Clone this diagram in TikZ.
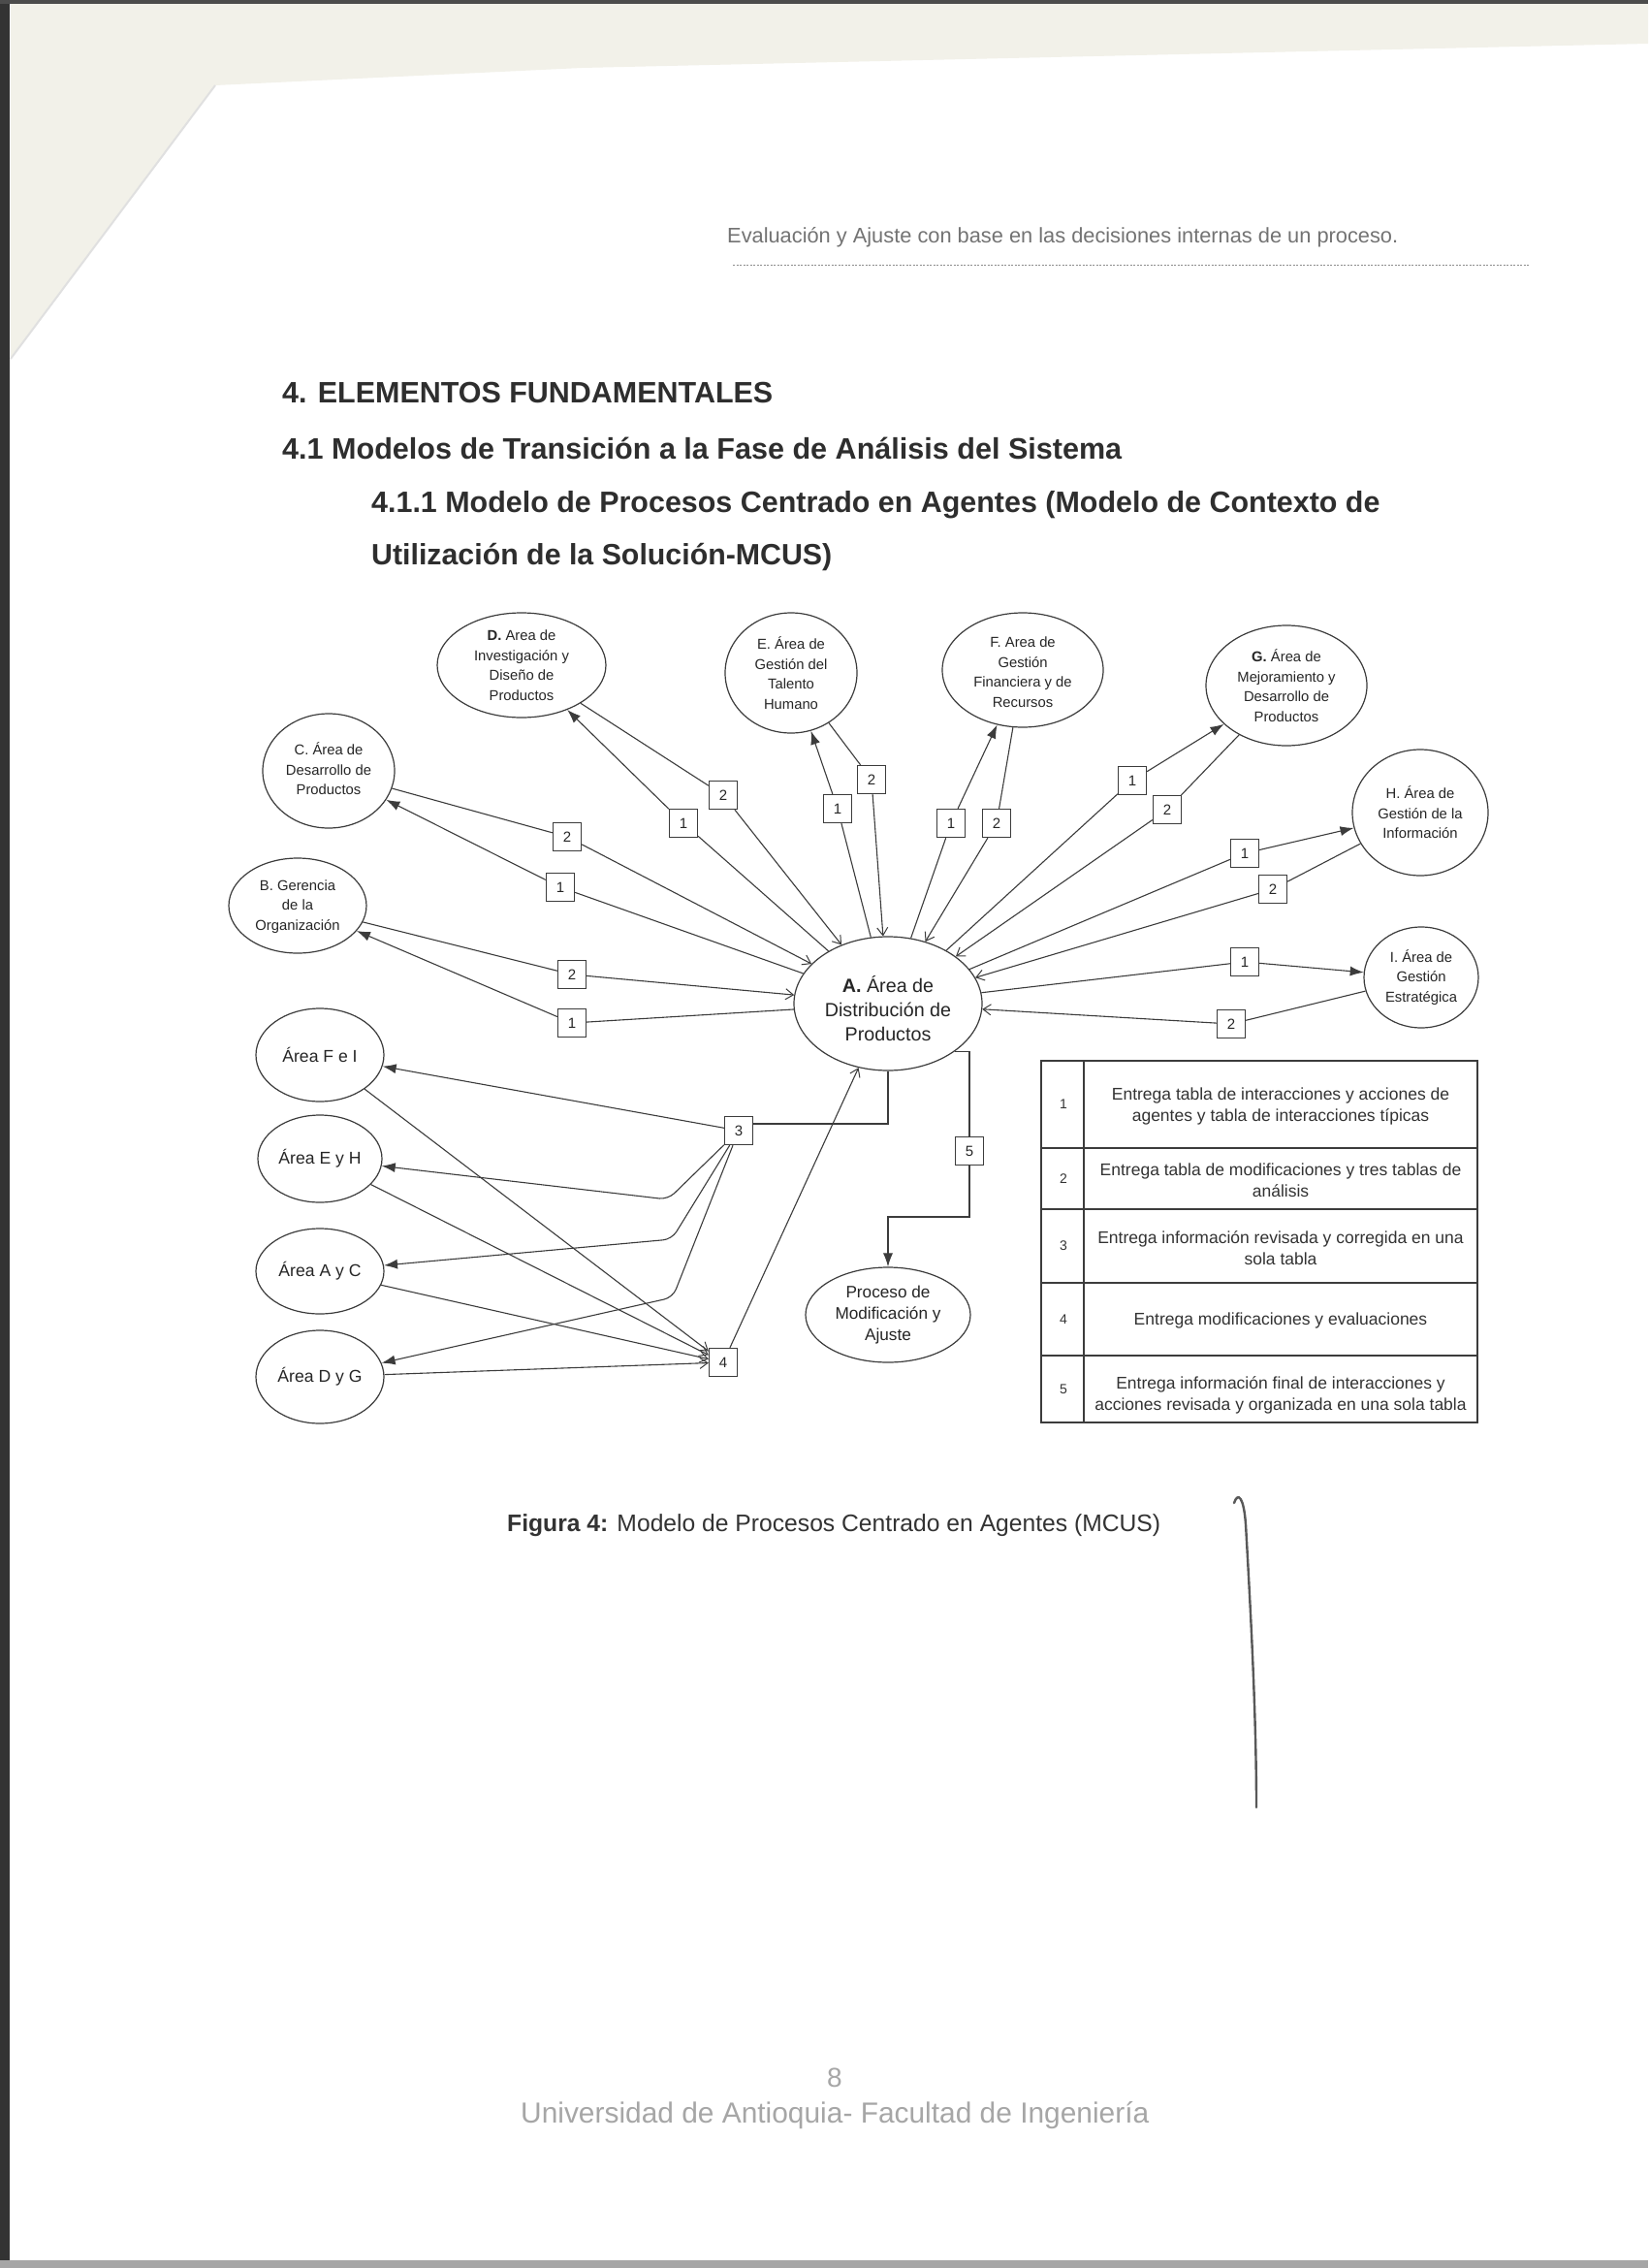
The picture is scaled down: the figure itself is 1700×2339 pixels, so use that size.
\documentclass[tikz,border=0pt]{standalone}
\usepackage{graphicx}
\usepackage{fontspec}
\setmainfont{Liberation Sans}
\usetikzlibrary{arrows.meta,shapes.geometric}
\definecolor{scanbeige}{RGB}{242,241,233}
\definecolor{ink}{RGB}{60,60,60}
\begin{document}
\begin{tikzpicture}[x=1pt,y=-1pt,
  ell/.style={ellipse, draw=ink, line width=1.2pt, inner sep=0pt},
  lab/.style={align=center, inner sep=0pt, text=black!85, font=\fontsize{14.8}{20.5}\selectfont},
  biglab/.style={align=center, inner sep=0pt, text=black!85, font=\fontsize{17.6}{22}\selectfont},
  numbox/.style={draw=ink, line width=1.3pt, fill=white, minimum size=29pt, inner sep=0pt, text=black!85, font=\fontsize{15}{15}\selectfont},
  con/.style={draw=ink, line width=1.1pt},
  tohead/.style={-{Latex[length=14pt,width=10pt]}},
  openhead/.style={-{Straight Barb[length=8pt,width=11pt,line width=1pt]}},
  cell/.style={align=center, inner sep=0pt, text=black!80, font=\fontsize{17.5}{22}\selectfont},
  cellnum/.style={inner sep=0pt, text=black!80, font=\fontsize{14}{14}\selectfont}
]
% page and scan frame
\useasboundingbox (0,0) rectangle (1700,2339);
\fill[white] (0,0) rectangle (1700,2339);
\fill[scanbeige] (11,4) -- (1700,4) -- (1700,45) -- (600,70) -- (222,88) -- (11,370) -- cycle;
\draw[black!12, line width=2pt] (222,88) -- (11,370);
\fill[black!80] (0,0) rectangle (10,2339);
\fill[black!70] (0,0) rectangle (1700,4);
\fill[black!35] (0,2331) rectangle (1700,2339);

% header
\node[anchor=base west, inner sep=0pt, text=black!55] (hdr) at (750,250)
  {\resizebox{692pt}{!}{Evaluación y Ajuste con base en las decisiones internas de un proceso.}};
\draw[black!45, line width=1pt, dash pattern=on 2pt off 1.5pt] (756,273) -- (1578,273);

% headings
\node[anchor=base west, inner sep=0pt, text=black!82] (h1) at (291,415)
  {\resizebox{506pt}{!}{\bfseries 4. ELEMENTOS FUNDAMENTALES}};
\node[anchor=base west, inner sep=0pt, text=black!82] (h2) at (291,473)
  {\resizebox{866pt}{!}{\bfseries 4.1 Modelos de Transición a la Fase de Análisis del Sistema}};
\node[anchor=base west, inner sep=0pt, text=black!82] (h3) at (383,528)
  {\resizebox{1040pt}{!}{\bfseries 4.1.1 Modelo de Procesos Centrado en Agentes (Modelo de Contexto de}};
\node[anchor=base west, inner sep=0pt, text=black!82] (h4) at (383,582)
  {\resizebox{475pt}{!}{\bfseries Utilización de la Solución-MCUS)}};

% ellipses
\node[ell, minimum width=194pt, minimum height=138pt] (A) at (916,1035) {};
\node[ell, minimum width=174pt, minimum height=108pt] (D) at (538,686) {};
\node[ell, minimum width=136pt, minimum height=124pt] (E) at (816,694) {};
\node[ell, minimum width=166pt, minimum height=118pt] (F) at (1055,691) {};
\node[ell, minimum width=166pt, minimum height=124pt] (G) at (1327,707) {};
\node[ell, minimum width=140pt, minimum height=130pt] (H) at (1465,838) {};
\node[ell, minimum width=118pt, minimum height=104pt] (I) at (1466,1008) {};
\node[ell, minimum width=136pt, minimum height=118pt] (C) at (339,795) {};
\node[ell, minimum width=142pt, minimum height=98pt] (B) at (307,934) {};
\node[ell, minimum width=132pt, minimum height=96pt] (FeI) at (330,1088) {};
\node[ell, minimum width=128pt, minimum height=90pt] (EyH) at (330,1195) {};
\node[ell, minimum width=132pt, minimum height=88pt] (AyC) at (330,1311) {};
\node[ell, minimum width=132pt, minimum height=96pt] (DyG) at (330,1420) {};
\node[ell, minimum width=170pt, minimum height=98pt] (P) at (916,1356) {};

% ellipse texts
\node[align=center, inner sep=0pt, text=black!85, font=\fontsize{19.7}{25}\selectfont] (At) at (916,1040)
  {\textbf{A.} Área de\\Distribución de\\Productos};
\node[lab] (Dt) at (538,686) {\textbf{D.} Area de\\Investigación y\\Diseño de\\Productos};
\node[lab] (Et) at (816,694) {E. Área de\\Gestión del\\Talento\\Humano};
\node[lab] (Ft) at (1055,693) {F. Area de\\Gestión\\Financiera y de\\Recursos};
\node[lab] (Gt) at (1327,707) {\textbf{G.} Área de\\Mejoramiento y\\Desarrollo de\\Productos};
\node[lab] (Ht) at (1465,838) {H. Área de\\Gestión de la\\Información};
\node[lab] (It) at (1466,1008) {I. Área de\\Gestión\\Estratégica};
\node[lab] (Ct) at (339,793) {C. Área de\\Desarrollo de\\Productos};
\node[lab] (Bt) at (307,935) {B. Gerencia\\de la\\Organización};
\node[biglab] (FeIt) at (330,1088) {Área F e I};
\node[biglab] (EyHt) at (330,1195) {Área E y H};
\node[biglab] (AyCt) at (330,1311) {Área A y C};
\node[biglab] (DyGt) at (330,1420) {Área D y G};
\node[align=center, inner sep=0pt, text=black!85, font=\fontsize{17.2}{22}\selectfont] (Pt) at (916,1356)
  {Proceso de\\Modificación y\\Ajuste};

% number boxes
\node[numbox] (bD1) at (705,849) {1};
\node[numbox] (bD2) at (746,820) {2};
\node[numbox] (bE1) at (864,834) {1};
\node[numbox] (bE2) at (899,804) {2};
\node[numbox] (bC1) at (578,915) {1};
\node[numbox] (bC2) at (585,863) {2};
\node[numbox] (bB1) at (590,1055) {1};
\node[numbox] (bB2) at (590,1005) {2};
\node[numbox] (bF1) at (981,849) {1};
\node[numbox] (bF2) at (1028,849) {2};
\node[numbox] (bG1) at (1168,805) {1};
\node[numbox] (bG2) at (1204,835) {2};
\node[numbox] (bH1) at (1284,880) {1};
\node[numbox] (bH2) at (1313,917) {2};
\node[numbox] (bI1) at (1284,992) {1};
\node[numbox] (bI2) at (1270,1056) {2};
\node[numbox] (b3) at (762,1166) {3};
\node[numbox] (b4) at (746,1405) {4};
\node[numbox] (b5) at (1000,1187) {5};

% line 1: A -> outer area
\foreach \n in {B,C,D,E,F,G,H,I}{
  \draw[con] (A) -- (b\n1);
  \draw[con,tohead] (b\n1) -- (\n);
}
% line 2: outer area -> A
\foreach \n in {B,C,D,E,F,G,H,I}{
  \draw[con] (\n) -- (b\n2);
  \draw[con,openhead] (b\n2) -- (A);
}

% box 3
\draw[con] ([yshift=7pt]b3.east) -| (A.south);
\coordinate (k1) at (689,1237);
\coordinate (k2) at (693,1278);
\coordinate (k3) at (694,1338);
\draw[con,tohead] (b3) -- (FeI);
\draw[con,tohead,rounded corners=9pt] (b3) -- (k1) -- (EyH);
\draw[con,tohead,rounded corners=9pt] (b3) -- (k2) -- (AyC);
\draw[con,tohead,rounded corners=9pt] (b3) -- (k3) -- (DyG);

% box 4
\draw[con,openhead] (FeI) -- (b4);
\draw[con,openhead] (EyH) -- (b4);
\draw[con,openhead] (AyC) -- (b4);
\draw[con,openhead] (DyG) -- (b4);
\draw[con,openhead] (b4) -- (A);

% box 5
\coordinate (k5) at (1000,1255);
\draw[con] (A.south east) -| (b5.north);
\draw[con,tohead] (b5.south) -- (k5) -| (P.north);

% table
\draw[ink, line width=1.3pt] (1074,1094) rectangle (1524,1467);
\draw[ink, line width=1.1pt] (1118,1094) -- (1118,1467);
\foreach \yy in {1184,1247,1323,1398}{\draw[ink, line width=1.1pt] (1074,\yy) -- (1524,\yy);}
\node[cellnum] (n1) at (1097,1139) {1};
\node[cellnum] (n2) at (1097,1216) {2};
\node[cellnum] (n3) at (1097,1285) {3};
\node[cellnum] (n4) at (1097,1361) {4};
\node[cellnum] (n5) at (1097,1433) {5};
\node[cell] (t1) at (1321,1141) {Entrega tabla de interacciones y acciones de\\agentes y tabla de interacciones típicas};
\node[cell] (t2) at (1321,1217) {Entrega tabla de modificaciones y tres tablas de\\análisis};
\node[cell] (t3) at (1321,1287) {Entrega información revisada y corregida en una\\sola tabla};
\node[cell] (t4) at (1321,1362) {Entrega modificaciones y evaluaciones};
\node[cell] (t5) at (1321,1439) {Entrega información final de interacciones y\\acciones revisada y organizada en una sola tabla};

% caption
\node[anchor=base west, inner sep=0pt, text=black!80] (cap) at (523,1579)
  {\resizebox{674pt}{!}{\textbf{Figura 4:} Modelo de Procesos Centrado en Agentes (MCUS)}};

% pen mark
\draw[black!65, line width=2.4pt, line cap=round] (1273,1550) .. controls (1277,1538) and (1283,1544) .. (1285,1572) .. controls (1290,1660) and (1296,1770) .. (1296,1864);

% footer
\node[anchor=base, inner sep=0pt, text=black!35, font=\fontsize{28}{28}\selectfont] (pg) at (861,2152) {8};
\node[anchor=base west, inner sep=0pt, text=black!35] (ft) at (537,2189)
  {\resizebox{648pt}{!}{Universidad de Antioquia- Facultad de Ingeniería}};
\end{tikzpicture}
\end{document}
